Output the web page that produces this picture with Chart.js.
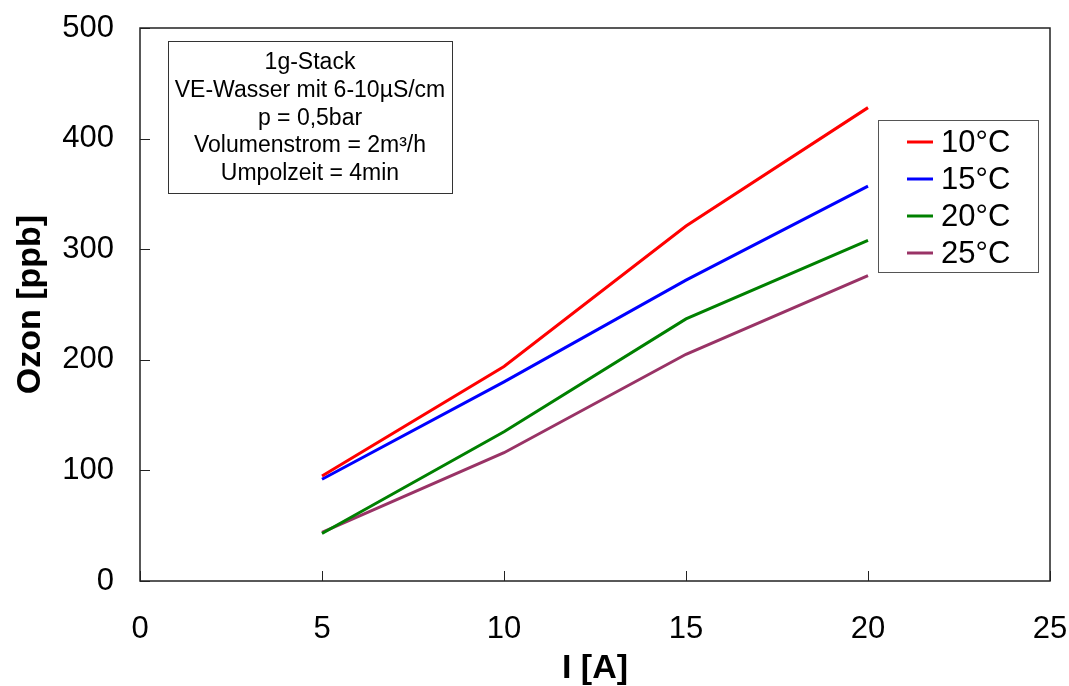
<!DOCTYPE html>
<html>
<head>
<meta charset="utf-8">
<script src="https://cdn.jsdelivr.net/npm/chart.js@4"></script>
<style>
  html, body { margin: 0; padding: 0; background: #fff; }
  #wrap { width: 1069px; height: 686px; }
</style>
</head>
<body>
<div id="wrap"><canvas id="ozonChart" width="1069" height="686"></canvas></div>
<script>
// data
const currents = [5, 10, 15, 20];
const ozon10 = [95, 194, 321, 428];
const ozon15 = [92, 180, 272, 357];
const ozon20 = [43, 135, 237, 308];
const ozon25 = [44, 116, 205, 276];
const seriesLabels = ["10°C", "15°C", "20°C", "25°C"];
const seriesColors = ["#ff0000", "#0000ff", "#008000", "#993366"];
const xTicks = [0, 5, 10, 15, 20, 25];
const yTicks = [0, 100, 200, 300, 400, 500];
const infoLines = [
    "1g-Stack",
    "VE-Wasser mit 6-10µS/cm",
    "p = 0,5bar",
    "Volumenstrom = 2m³/h",
    "Umpolzeit = 4min",
];

const FONT = "'Liberation Sans', Arial, sans-serif";

const toPoints = (ys) => currents.map((x, i) => ({ x: x, y: ys[i] }));
const allSeries = [ozon10, ozon15, ozon20, ozon25];

// frame, inward ticks, info box, legend
const decorations = {
    id: "decorations",
    afterDraw(chart) {
        const ctx = chart.ctx;
        const a = chart.chartArea;
        const xs = chart.scales.x;
        const ys = chart.scales.y;
        ctx.save();

        // tick marks pointing into the plot
        ctx.strokeStyle = "#222";
        ctx.lineWidth = 1;
        xTicks.forEach((v) => {
            const px = Math.round(xs.getPixelForValue(v)) + 0.5;
            ctx.beginPath();
            ctx.moveTo(px, a.bottom);
            ctx.lineTo(px, a.bottom - 10);
            ctx.stroke();
        });
        yTicks.forEach((v) => {
            const py = Math.round(ys.getPixelForValue(v)) + 0.5;
            ctx.beginPath();
            ctx.moveTo(a.left, py);
            ctx.lineTo(a.left + 10, py);
            ctx.stroke();
        });

        // frame
        ctx.lineWidth = 1.5;
        ctx.strokeStyle = "#222";
        ctx.strokeRect(a.left, a.top, a.right - a.left, a.bottom - a.top);

        // info box
        ctx.fillStyle = "#fff";
        ctx.fillRect(168, 41, 284, 152);
        ctx.lineWidth = 1;
        ctx.strokeStyle = "#333";
        ctx.strokeRect(168.5, 41.5, 284, 152);
        ctx.fillStyle = "#000";
        ctx.font = "23px " + FONT;
        ctx.textAlign = "center";
        ctx.textBaseline = "middle";
        infoLines.forEach((t, i) => {
            ctx.fillText(t, 310, 63 + i * 27.6);
        });

        // legend
        ctx.fillStyle = "#fff";
        ctx.fillRect(878, 120, 160, 152);
        ctx.strokeStyle = "#555";
        ctx.strokeRect(878.5, 120.5, 160, 152);
        ctx.font = "31px " + FONT;
        ctx.textAlign = "left";
        chart.data.datasets.forEach((ds, i) => {
            const cy = 142 + i * 37;
            ctx.strokeStyle = ds.borderColor;
            ctx.lineWidth = 3;
            ctx.beginPath();
            ctx.moveTo(907, cy);
            ctx.lineTo(933, cy);
            ctx.stroke();
            ctx.fillStyle = "#000";
            ctx.fillText(ds.label, 941, cy + 1);
        });

        ctx.restore();
    },
};

new Chart(document.getElementById("ozonChart"), {
    type: "line",
    data: {
        datasets: allSeries.map((ys, i) => ({
            label: seriesLabels[i],
            data: toPoints(ys),
            borderColor: seriesColors[i],
            backgroundColor: seriesColors[i],
            borderWidth: 3,
            pointRadius: 0,
            tension: 0,
            fill: false,
        })),
    },
    options: {
        responsive: false,
        animation: false,
        layout: { padding: { top: 28, right: 19, left: 0, bottom: 0 } },
        plugins: {
            legend: { display: false },
            tooltip: { enabled: false },
        },
        scales: {
            x: {
                type: "linear",
                min: 0,
                max: 25,
                afterBuildTicks: (s) => { s.ticks = xTicks.map((v) => ({ value: v })); },
                afterFit: (s) => {
                    s.height = 105;
                    s.paddingLeft = 0;
                    s.paddingRight = 0;
                },
                grid: { display: false, drawTicks: false },
                border: { display: false },
                ticks: {
                    color: "#000",
                    padding: 30,
                    maxRotation: 0,
                    font: { family: FONT, size: 31 },
                },
                title: {
                    display: true,
                    text: "I [A]",
                    color: "#000",
                    padding: { top: 0, bottom: 0 },
                    font: { family: FONT, size: 34, weight: "bold", lineHeight: 1.05 },
                },
            },
            y: {
                min: 0,
                max: 500,
                afterBuildTicks: (s) => { s.ticks = yTicks.map((v) => ({ value: v })); },
                afterFit: (s) => {
                    s.width = 140;
                    s.paddingTop = 0;
                    s.paddingBottom = 0;
                },
                grid: { display: false, drawTicks: false },
                border: { display: false },
                ticks: {
                    color: "#000",
                    padding: 26,
                    font: { family: FONT, size: 31 },
                },
                title: {
                    display: true,
                    text: "Ozon [ppb]",
                    color: "#000",
                    padding: { top: 10, bottom: 0 },
                    font: { family: FONT, size: 34, weight: "bold" },
                },
            },
        },
    },
    plugins: [decorations],
});
</script>
</body>
</html>
